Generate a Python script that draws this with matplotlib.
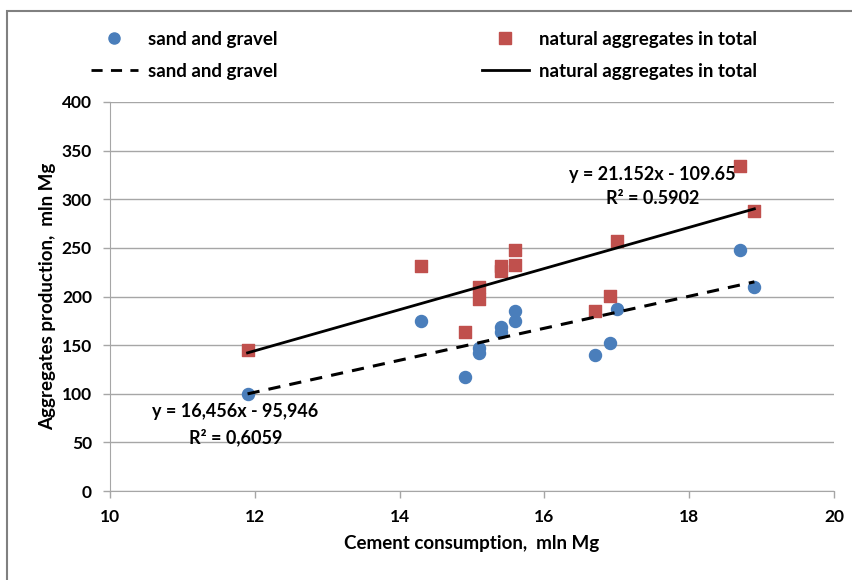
import numpy as np
import matplotlib
matplotlib.use("Agg")
import matplotlib.pyplot as plt
from matplotlib.lines import Line2D
from matplotlib.patches import Rectangle

plt.rcParams['font.family'] = ['Lato', 'DejaVu Sans']
plt.rcParams['font.weight'] = 'bold'
plt.rcParams['axes.labelweight'] = 'bold'

# cement consumption vs aggregates production
cement = [11.9, 14.3, 14.9, 15.1, 15.1, 15.4, 15.4, 15.6, 15.6, 16.7, 16.9, 17.0, 18.7, 18.9]
sand_gravel = [100, 175, 117, 147, 142, 169, 164, 185, 175, 140, 152, 187, 248, 210]
aggregates_total = [145, 231, 164, 210, 197, 231, 226, 248, 232, 185, 201, 257, 334, 288]

# trendline coefficients as printed on the chart
sg_slope, sg_icpt = 16.456, -95.946
tot_slope, tot_icpt = 21.152, -109.65

blue = '#4a7ebb'
red = '#c0504d'

fig = plt.figure(figsize=(8.53, 5.8), dpi=100)
ax = fig.add_axes([110/853, 1 - 491/580, 724/853, 389/580])

# outer frame (only left/top visible in the original crop)
fig.patches.append(Rectangle((7/853, -0.05), 1.1, 1 - 11/580 + 0.05,
                             transform=fig.transFigure, fill=False,
                             edgecolor='#808080', linewidth=1.5))

ax.scatter(cement, sand_gravel, s=75, color=blue, zorder=3)
ax.scatter(cement, aggregates_total, s=70, marker='s', color=red, zorder=3)

xs = np.array([min(cement), max(cement)])
ax.plot(xs, sg_slope * xs + sg_icpt, color='black', lw=2.2, ls=(0, (4, 3)), zorder=4)
ax.plot(xs, tot_slope * xs + tot_icpt, color='black', lw=2.0, zorder=4)

ax.set_xlim(10, 20)
ax.set_ylim(0, 400)
ax.set_xticks(np.arange(10, 21, 2))
ax.set_yticks(np.arange(0, 401, 50))
ax.yaxis.grid(True, color='#a6a6a6', lw=1)
ax.set_axisbelow(True)
for s in ['top', 'right']:
    ax.spines[s].set_visible(False)
for s in ['left', 'bottom']:
    ax.spines[s].set_color('#a6a6a6')
ax.tick_params(axis='both', colors='#a6a6a6', labelcolor='black', labelsize=12.5,
               length=5, width=1)
ax.tick_params(axis='x', pad=8)
ax.tick_params(axis='y', pad=8)
for lbl in ax.get_xticklabels() + ax.get_yticklabels():
    lbl.set_fontweight('bold')

ax.set_xlabel('Cement consumption,  mln Mg', fontsize=13.5, fontweight='bold', labelpad=7)
ax.set_ylabel('Aggregates production,  mln Mg', fontsize=13.5, fontweight='bold', labelpad=4)

ax.text(17.49, 325, 'y = 21.152x - 109.65', fontsize=13, fontweight='bold', ha='center', va='center')
ax.text(17.49, 301, 'R² = 0.5902', fontsize=13, fontweight='bold', ha='center', va='center')
ax.text(11.73, 81.5, 'y = 16,456x - 95,946', fontsize=13, fontweight='bold', ha='center', va='center')
ax.text(11.74, 55.5, 'R² = 0,6059', fontsize=13, fontweight='bold', ha='center', va='center')

handles = [
    Line2D([], [], marker='o', color=blue, ls='none', markersize=8),
    Line2D([], [], color='black', ls=(0, (4, 3)), lw=2),
    Line2D([], [], marker='s', color=red, ls='none', markersize=8),
    Line2D([], [], color='black', lw=2),
]
labels = ['sand and gravel', 'sand and gravel',
          'natural aggregates in total', 'natural aggregates in total']
fig.legend(handles, labels, ncol=2, loc='upper left',
           bbox_to_anchor=(74/853, 1 - 14/580), frameon=False,
           prop={'size': 13.5, 'weight': 'bold'},
           columnspacing=10.9, handlelength=2.5, labelspacing=0.78, handletextpad=0.55)

fig.savefig('out.png', dpi=100)
